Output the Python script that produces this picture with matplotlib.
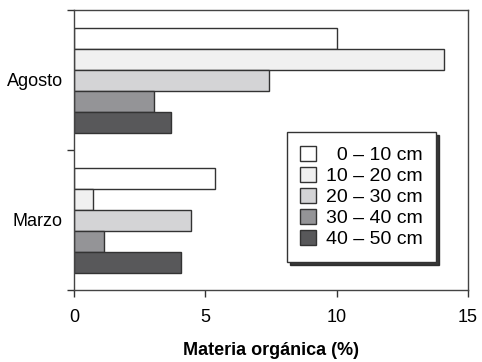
import numpy as np
import matplotlib.pyplot as plt

# Datos
meses = ["Marzo", "Agosto"]
capas = ["0 – 10 cm", "10 – 20 cm", "20 – 30 cm", "30 – 40 cm", "40 – 50 cm"]
marzo = [5.37, 0.74, 4.45, 1.14, 4.08]
agosto = [10.0, 14.1, 7.42, 3.03, 3.68]
colores = ["#ffffff", "#f0f0f0", "#d4d4d6", "#949497", "#58585a"]

plt.rcParams['font.family'] = ['Liberation Sans', 'DejaVu Sans']

fig = plt.figure(figsize=(4.82, 3.62), dpi=100)
ax = fig.add_axes([74 / 482, 1 - 290 / 362, 394 / 482, 280 / 362])

# etiquetas alineadas a la derecha con espacio de cifra (U+2007)
ancho = max(len(c) for c in capas)
etiquetas = ["\u2007" * (ancho - len(c)) + c for c in capas]

y = np.arange(len(meses))
alto = 0.15
for i, capa in enumerate(etiquetas):
    vals = [marzo[i], agosto[i]]
    ax.barh(y + (2 - i) * alto, vals, height=alto, color=colores[i],
            edgecolor="#333333", linewidth=1.0, label=capa)

ax.set_xlim(0, 15)
ax.set_ylim(-0.5, 1.5)
ax.set_xticks([0, 5, 10, 15])
ax.set_yticks(y)
ax.set_yticklabels(meses, fontsize=13)
ax.set_yticks([-0.5, 0.5, 1.5], minor=True)
ax.tick_params(axis='y', which='major', length=0, pad=8)
ax.tick_params(axis='y', which='minor', length=5, width=1, color="#333333")
ax.tick_params(axis='x', length=5, width=1, color="#333333", labelsize=13, pad=9)
for s in ax.spines.values():
    s.set_color("#444444")
    s.set_linewidth(1.0)

ax.set_xlabel("Materia orgánica (%)", fontsize=13, fontweight='bold', labelpad=11)

leg = ax.legend(loc='lower right', bbox_to_anchor=((436 - 74) / 394, (290 - 262) / 280),
                fontsize=14, frameon=True, fancybox=False,
                shadow={'color': '#222222', 'alpha': 0.9},
                handlelength=0.8, handleheight=0.8, handletextpad=0.5,
                labelspacing=0.15, borderpad=0.7, borderaxespad=0)
leg.get_frame().set_edgecolor("#333333")
leg.get_frame().set_linewidth(1.0)

fig.savefig("out.png", dpi=100)
